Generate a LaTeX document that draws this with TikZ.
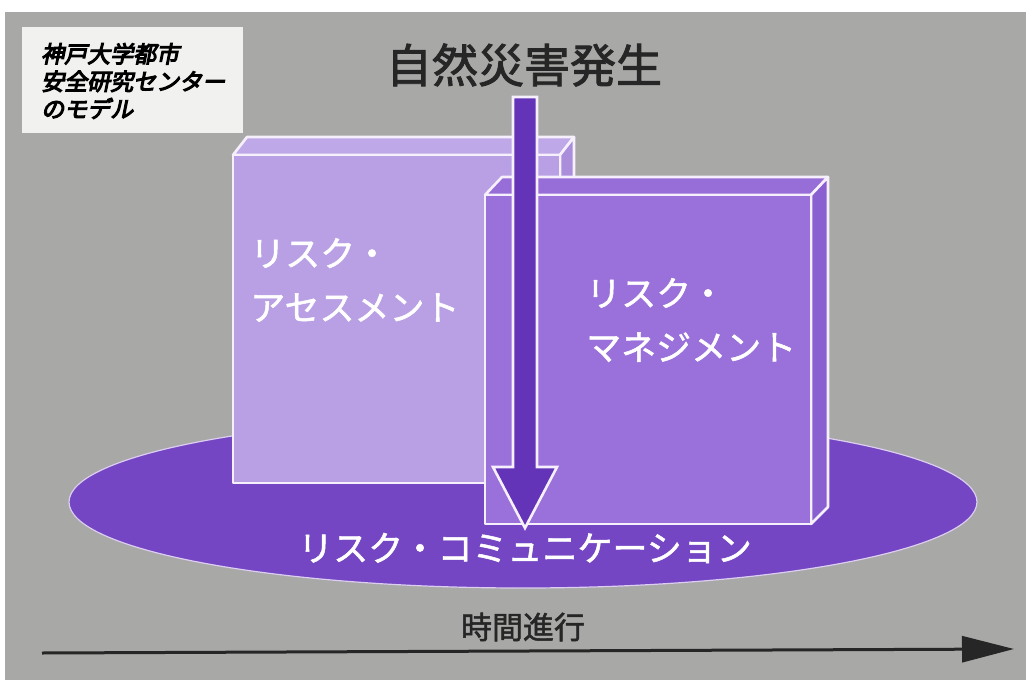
\documentclass[tikz,border=0pt]{standalone}
\usepackage{fontspec}
\usetikzlibrary{arrows.meta}
\newfontfamily\jp{Noto Sans CJK JP}
\newfontfamily\jpsl{Noto Sans CJK JP}[FakeSlant=0.2]
\newcommand{\heavytext}[2]{\special{pdf:literal direct 2 Tr #1 w}#2\special{pdf:literal direct 0 Tr}}
\definecolor{bgc}{HTML}{A8A8A6}
\definecolor{labc}{HTML}{F1F1EF}
\definecolor{boxAf}{HTML}{B9A0E4}
\definecolor{boxAt}{HTML}{BFA8E8}
\definecolor{boxAs}{HTML}{AA8EDC}
\definecolor{boxBf}{HTML}{9A70DA}
\definecolor{boxBt}{HTML}{976DD8}
\definecolor{boxBs}{HTML}{8A60D0}
\definecolor{ellc}{HTML}{7446C3}
\definecolor{arrc}{HTML}{6333B8}
\definecolor{edgec}{HTML}{F6F0FC}
\definecolor{titlec}{HTML}{262626}
\tikzset{
  faceline/.style={draw=edgec, line width=2.6pt, line join=round},
  boxtext/.style={text=white, font=\jp\fontsize{35}{54}\selectfont, align=left, inner sep=0pt, anchor=west},
}
\begin{document}
\begin{tikzpicture}[x=1pt,y=-1pt]
\useasboundingbox (0,0) rectangle (1026,680);
\fill[white] (0,0) rectangle (1026,680);
\fill[bgc] (5,12) rectangle (1026,680);
% label box
\fill[labc] (22,27) rectangle (243,133);
\node[font=\jpsl\fontsize{23}{27.5}\selectfont, align=left, inner sep=0pt, anchor=west, text=black] (lab) at (41,81) {\heavytext{1.1}{神戸大学都市}\\\heavytext{1.1}{安全研究センター}\\\heavytext{1.1}{のモデル}};
% title
\node[font=\jp\fontsize{46}{50}\selectfont, text=titlec, inner sep=0pt] (title) at (524,65) {\heavytext{0.9}{自然災害発生}};
% ellipse
\fill[ellc, draw=edgec!80!ellc, line width=1.2pt] (523,502) ellipse [x radius=454, y radius=86];
% box A (assessment)
\fill[boxAt, faceline] (233,155) -- (560,155) -- (574,137) -- (247,137) -- cycle;
\fill[boxAs, faceline] (560,155) -- (574,137) -- (574,465) -- (560,483) -- cycle;
\fill[boxAf, faceline] (233,155) rectangle (560,483);
\node[boxtext] (ta) at (250,280) {\heavytext{0.5}{リスク・}\\\heavytext{0.5}{アセスメント}};
% box B (management)
\fill[boxBt, faceline] (485,195) -- (811,195) -- (828,177) -- (502,177) -- cycle;
\fill[boxBs, faceline] (811,195) -- (828,177) -- (828,507) -- (811,524) -- cycle;
\fill[boxBf, faceline] (485,195) rectangle (811,524);
\node[boxtext] (tb) at (586,320) {\heavytext{0.5}{リスク・}\\\heavytext{0.5}{マネジメント}};
% arrow
\fill[arrc, draw=edgec, line width=2.6pt, line join=miter]
  (513,97) -- (537,97) -- (537,467) -- (557,467) -- (525,528) -- (493,467) -- (513,467) -- cycle;
% communication text
\node[text=white, font=\jp\fontsize{35}{40}\selectfont, inner sep=0pt] (tc) at (525,548) {\heavytext{0.5}{リスク・コミュニケーション}};
% time
\node[text=titlec, font=\jp\fontsize{31}{36}\selectfont, inner sep=0pt] (tt) at (523,627) {\heavytext{0.5}{時間進行}};
\coordinate (ts) at (42,653);
\coordinate (te) at (1014,649);
\draw[titlec, line width=3pt, -{Triangle[length=52pt,width=26pt]}] (ts) -- (te);
\end{tikzpicture}
\end{document}
